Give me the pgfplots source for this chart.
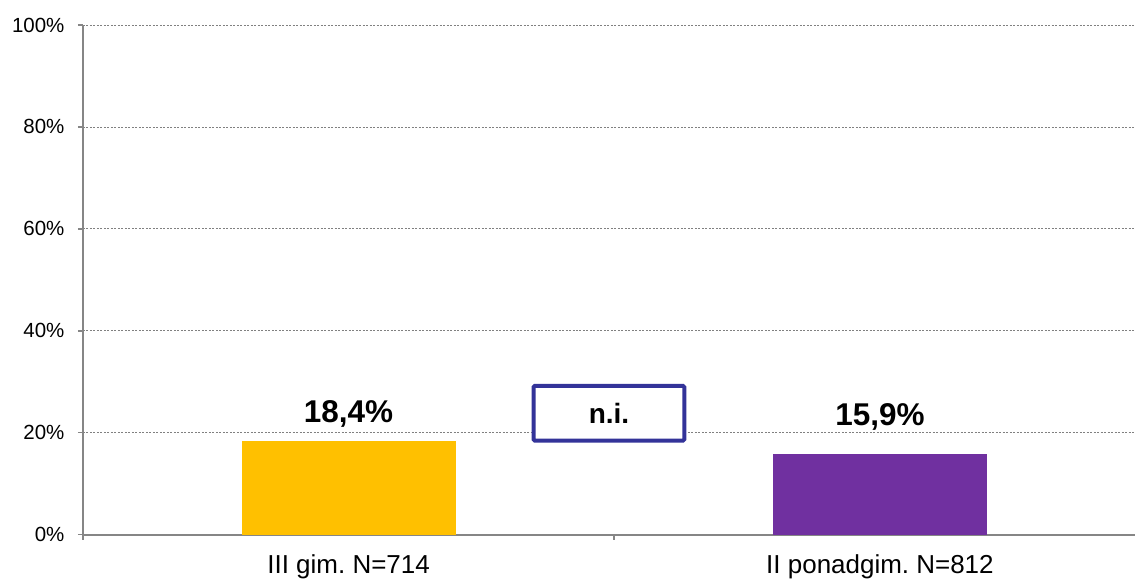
\documentclass[border=0pt]{standalone}
\usepackage{pgfplots}
\pgfplotsset{compat=1.18}
\usepackage{fontspec}
\setmainfont{Liberation Sans}
\definecolor{barA}{HTML}{FFC000}
\definecolor{barB}{HTML}{7030A0}
\definecolor{niblue}{HTML}{333399}
\definecolor{axgray}{HTML}{868686}
\begin{document}
\frenchspacing
\begin{tikzpicture}
\begin{axis}[
  scale only axis,
  width=1053pt, height=510pt,
  xmin=0, xmax=1.98,
  ymin=0, ymax=100,
  axis x line*=bottom,
  axis y line*=left,
  separate axis lines,
  x axis line style={-, draw=axgray, line width=2pt},
  y axis line style={-, draw=axgray, line width=2pt},
  xtick={0,1,2},
  xticklabels={},
  ytick={0,20,40,60,80,100},
  yticklabel={\pgfmathprintnumber{\tick}\%},
  /pgf/number format/assume math mode=true,
  tick align=outside,
  major tick length=5pt,
  every tick/.style={draw=axgray, line width=1.6pt},
  yticklabel style={font=\fontsize{20.5}{23}\selectfont, xshift=-10pt},
  ymajorgrids,
  major grid style={draw=gray, line width=0.6pt, dash pattern=on 2pt off 1.5pt},
  extra x ticks={0.5,1.5},
  extra x tick labels={III gim. N=714, II ponadgim. N=812},
  extra x tick style={major tick length=0pt, grid=none,
    tick label style={font=\fontsize{26}{30}\selectfont, yshift=-17pt}},
  ybar, bar width=214pt,
  clip=false,
]
\addplot[fill=barA, draw=none, bar shift=0pt] coordinates {(0.5,18.4)};
\addplot[fill=barB, draw=none, bar shift=0pt] coordinates {(1.5,15.9)};
\node[anchor=base, font=\bfseries\fontsize{31.5}{36}\selectfont] at (axis cs:0.5,21.9) {18,4\%};
\node[anchor=base, font=\bfseries\fontsize{31.5}{36}\selectfont] at (axis cs:1.5,21.4) {15,9\%};
\node[draw=niblue, line width=4pt, rounded corners=1.5pt, fill=white,
      minimum width=151pt, minimum height=55pt, inner sep=0pt,
      font=\bfseries\fontsize{28}{32}\selectfont] at (axis cs:0.99,23.8) {n.i.};
\end{axis}
\path ([xshift=-83pt,yshift=-46pt]current axis.south west) rectangle ([yshift=25pt]current axis.north east);
\end{tikzpicture}
\end{document}
